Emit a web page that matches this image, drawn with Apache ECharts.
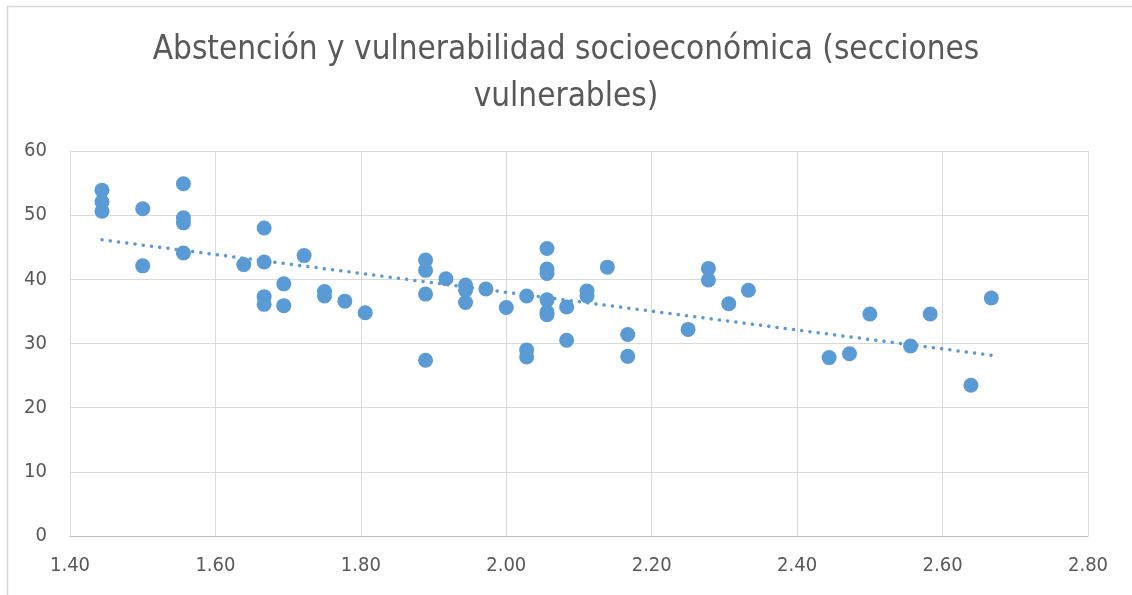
<!DOCTYPE html>
<html>
  <head>
    <meta charset="utf-8">
    <title>Abstención y vulnerabilidad</title>
    <script src="https://cdn.jsdelivr.net/npm/echarts@6/dist/echarts.min.js" charset="utf-8"></script>
    <style media="screen">
      html, body{
        margin: 0;
        padding: 0;
        background: #ffffff;
      }
      #main{
        width: 1132px;
        height: 595px;
      }
    </style>
  </head>
  <body>
    <div id="main"></div>
    <script type="text/javascript">
      // valores (x = vulnerabilidad, y = abstencion %)
      var xValues = [
        1.444, 1.444, 1.444,
        1.500, 1.500,
        1.556, 1.556, 1.556, 1.556,
        1.639,
        1.667, 1.667, 1.667, 1.667,
        1.694, 1.694,
        1.722,
        1.750, 1.750,
        1.778,
        1.806,
        1.889, 1.889, 1.889, 1.889,
        1.917,
        1.944, 1.944, 1.944,
        1.972,
        2.000,
        2.028, 2.028, 2.028,
        2.056, 2.056, 2.056, 2.056, 2.056, 2.056,
        2.083, 2.083,
        2.111, 2.111,
        2.139,
        2.167, 2.167,
        2.250,
        2.278, 2.278,
        2.306,
        2.333,
        2.444,
        2.472,
        2.500,
        2.556,
        2.583,
        2.639,
        2.667
      ];
      var yValues = [
        53.9, 52.1, 50.6,
        51.0, 42.1,
        54.9, 49.6, 48.8, 44.1,
        42.3,
        48.0, 42.7, 37.3, 36.1,
        39.3, 35.9,
        43.7,
        38.1, 37.4,
        36.6,
        34.8,
        43.0, 41.4, 37.7, 27.4,
        40.1,
        39.1, 38.3, 36.4,
        38.5,
        35.6,
        37.4, 29.0, 27.9,
        44.8, 41.6, 40.9, 36.8, 34.9, 34.5,
        35.7, 30.5,
        38.2, 37.4,
        41.9,
        31.4, 28.0,
        32.2,
        41.7, 39.9,
        36.2,
        38.3,
        27.8,
        28.4,
        34.6,
        29.6,
        34.6,
        23.5,
        37.1
      ];
      var xTicks = ['1.40', '1.60', '1.80', '2.00', '2.20', '2.40', '2.60', '2.80'];
      var yTicks = [0, 10, 20, 30, 40, 50, 60];
      var titleText = 'Abstención y vulnerabilidad socioeconómica (secciones\nvulnerables)';

      var points = [];
      for (var i = 0; i < xValues.length; i++) {
        points.push([xValues[i], yValues[i]]);
      }

      // linea de tendencia lineal (minimos cuadrados), como en Excel
      var n = xValues.length, sx = 0, sy = 0, sxx = 0, sxy = 0;
      for (var i = 0; i < n; i++) {
        sx += xValues[i]; sy += yValues[i];
        sxx += xValues[i] * xValues[i]; sxy += xValues[i] * yValues[i];
      }
      var slope = (n * sxy - sx * sy) / (n * sxx - sx * sx);
      var inter = (sy - slope * sx) / n;
      var xMin = Math.min.apply(null, xValues);
      var xMax = Math.max.apply(null, xValues);
      var trend = [[xMin, inter + slope * xMin], [xMax, inter + slope * xMax]];

      var labelFont = "'Liberation Sans Narrow', 'DejaVu Sans Condensed', 'Liberation Sans', sans-serif";

      var myChart = echarts.init(document.getElementById('main'));
      var option = {
        animation: false,
        backgroundColor: '#ffffff',
        title: {
          text: titleText,
          left: 'center',
          top: 22,
          textStyle: {
            color: '#595959',
            fontSize: 33,
            fontWeight: 'normal',
            fontFamily: labelFont,
            lineHeight: 47
          }
        },
        graphic: [{
          type: 'rect',
          left: 5,
          top: 4,
          shape: { width: 1140, height: 610 },
          style: { fill: 'none', stroke: '#d9d9d9', lineWidth: 1.5 },
          silent: true,
          z: -1
        }],
        grid: {
          left: 70,
          right: 44,
          top: 151,
          bottom: 59
        },
        xAxis: {
          type: 'value',
          min: 1.4,
          max: 2.8,
          interval: 0.2,
          axisLine: { show: true, lineStyle: { color: '#bfbfbf', width: 1 } },
          axisTick: { show: false },
          splitLine: { show: true, lineStyle: { color: '#d9d9d9', width: 1 } },
          axisLabel: {
            color: '#595959',
            fontSize: 20,
            fontFamily: labelFont,
            margin: 20,
            formatter: function (v) {
              var idx = Math.round((v - 1.4) / 0.2);
              return xTicks[idx] !== undefined ? xTicks[idx] : v.toFixed(2);
            }
          }
        },
        yAxis: {
          type: 'value',
          min: yTicks[0],
          max: yTicks[yTicks.length - 1],
          interval: 10,
          axisLine: { show: true, lineStyle: { color: '#d9d9d9', width: 1 } },
          axisTick: { show: false },
          splitLine: { show: true, lineStyle: { color: '#d9d9d9', width: 1 } },
          axisLabel: {
            color: '#595959',
            fontSize: 20,
            fontFamily: labelFont,
            margin: 23
          }
        },
        series: [
          {
            type: 'scatter',
            data: points,
            symbol: 'circle',
            symbolSize: 15,
            itemStyle: { color: '#5b9bd5', opacity: 1 },
            z: 3
          },
          {
            type: 'line',
            data: trend,
            symbol: 'none',
            silent: true,
            lineStyle: {
              color: '#5b9bd5',
              width: 3.5,
              type: [0.1, 8.2],
              cap: 'round'
            },
            z: 2
          }
        ]
      };
      myChart.setOption(option);
    </script>
  </body>
</html>
